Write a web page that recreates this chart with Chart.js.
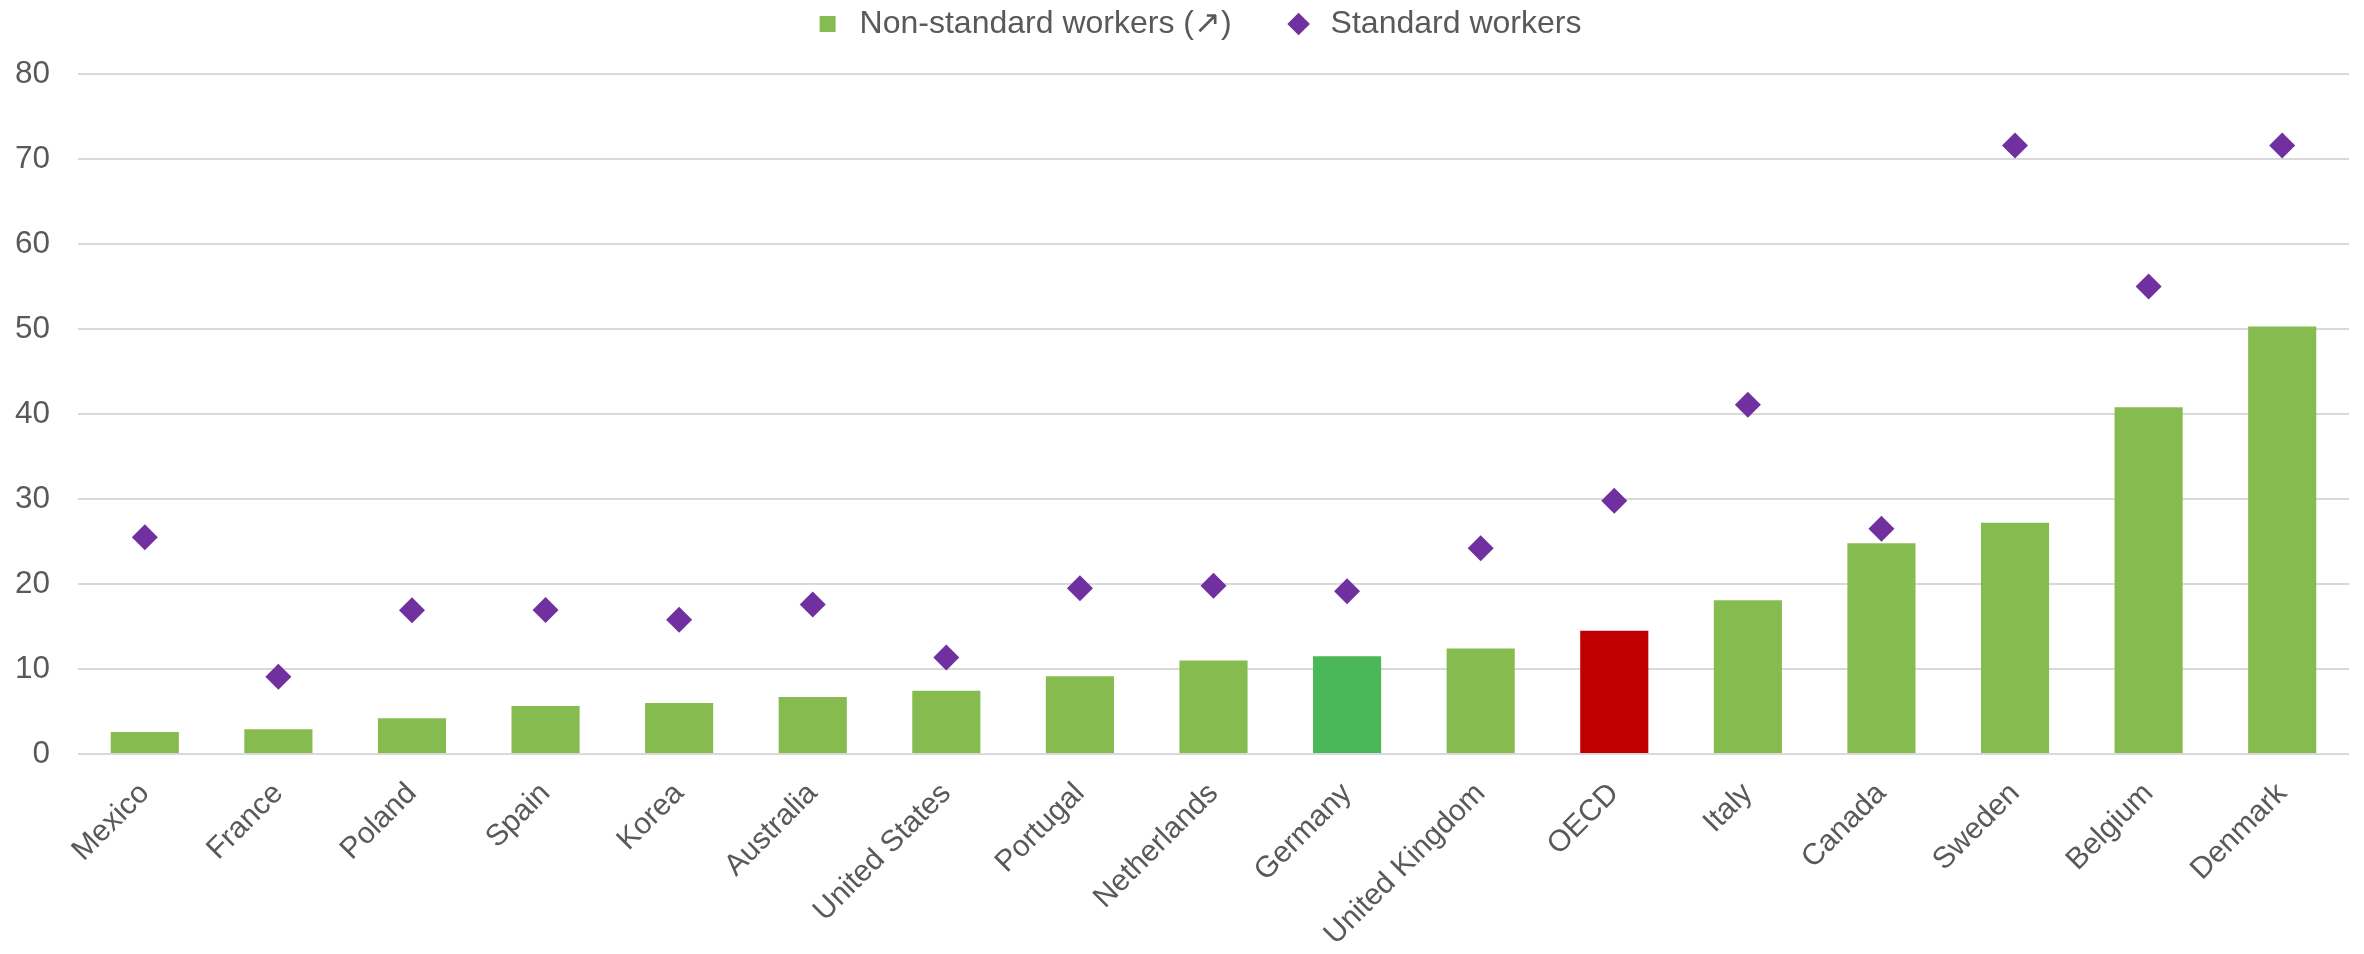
<!DOCTYPE html>
<html>
<head>
<meta charset="utf-8">
<script src="https://cdn.jsdelivr.net/npm/chart.js@4.4.1/dist/chart.umd.min.js"></script>
<style>
  html, body { margin: 0; padding: 0; background: #ffffff; }
  #wrap { width: 2364px; height: 954px; position: relative; }
</style>
</head>
<body>
<div id="wrap"><canvas id="chart"></canvas></div>
<script>
// Countries, ordered by the non-standard workers' share
const categories = ['Mexico', 'France', 'Poland', 'Spain', 'Korea', 'Australia', 'United States',
  'Portugal', 'Netherlands', 'Germany', 'United Kingdom', 'OECD', 'Italy', 'Canada', 'Sweden',
  'Belgium', 'Denmark'];

// Non-standard workers (bars)
const nonStandard = [2.6, 2.9, 4.2, 5.65, 6.0, 6.7, 7.45, 9.15, 11.0, 11.5, 12.4, 14.5, 18.1, 24.8,
  27.2, 40.8, 50.3];

// Standard workers (diamonds)
const standard = [25.5, 9.1, 16.9, 16.95, 15.8, 17.6, 11.35, 19.5, 19.8, 19.15, 24.2, 29.8, 41.1,
  26.5, 71.6, 55.0, 71.6];

// Value axis ticks
const yTicks = [0, 10, 20, 30, 40, 50, 60, 70, 80];

const seriesNames = ['Non-standard workers (\u2197)', 'Standard workers'];

const FONT = "'Liberation Sans', Arial, Helvetica, sans-serif";
const TEXT = '#595959';
const GRID = '#D9D9D9';
const BAR_GREEN = '#86BC4F';
const barHighlight = { 'Germany': '#4BB857', 'OECD': '#C00000' };
const DIAMOND = '#7030A0';

const LEGEND_HEIGHT = 74;   // space reserved above the plot
const LEGEND_TEXT_TOP = 8;  // top of the legend row
const LEGEND_SHIFT_X = 22;  // legend row sits slightly right of centre
const Y_AXIS_WIDTH = 78;    // room for the value labels
const X_AXIS_HEIGHT = 200;  // room for the slanted country names

// Wider gaps between legend entries without pushing the row downwards
const legendSpacing = {
  id: 'legendSpacing',
  beforeInit(chart) {
    const legend = chart.legend;
    if (!legend) return;
    const fit = legend.fit;
    legend.fit = function () {
      fit.call(this);
      this.height = LEGEND_HEIGHT;
    };
    const draw = legend.draw;
    legend.draw = function () {
      const { top, left, right } = this;
      this.top = top + LEGEND_TEXT_TOP - this.options.labels.padding;
      this.left = left + LEGEND_SHIFT_X;
      this.right = right + LEGEND_SHIFT_X;
      draw.apply(this, arguments);
      this.top = top;
      this.left = left;
      this.right = right;
    };
  }
};

new Chart(document.getElementById('chart'), {
  data: {
    labels: categories,
    datasets: [
      {
        type: 'bar',
        label: seriesNames[0],
        data: nonStandard,
        backgroundColor: (ctx) => barHighlight[categories[ctx.dataIndex]] || BAR_GREEN,
        borderWidth: 0,
        barPercentage: 0.51,
        categoryPercentage: 1.0,
        pointStyle: 'rect',
        order: 1
      },
      {
        type: 'line',
        label: seriesNames[1],
        data: standard,
        showLine: false,
        pointStyle: 'rectRot',
        pointRadius: 13,
        pointHoverRadius: 13,
        pointBorderWidth: 0,
        pointBackgroundColor: DIAMOND,
        backgroundColor: DIAMOND,
        borderColor: DIAMOND,
        order: 0
      }
    ]
  },
  options: {
    responsive: true,
    maintainAspectRatio: false,
    devicePixelRatio: 1,
    animation: false,
    layout: { padding: { left: 0, right: 15, top: 0, bottom: 0 } },
    plugins: {
      tooltip: { enabled: false },
      legend: {
        position: 'top',
        align: 'center',
        labels: {
          usePointStyle: true,
          boxHeight: 16,
          padding: 51,
          color: TEXT,
          font: { family: FONT, size: 32 },
          sort: (a, b) => a.datasetIndex - b.datasetIndex,
          generateLabels(chart) {
            const items = Chart.defaults.plugins.legend.labels.generateLabels(chart);
            items.forEach((it) => {
              it.pointStyle = chart.data.datasets[it.datasetIndex].pointStyle;
              it.lineWidth = 0;
            });
            return items;
          }
        }
      }
    },
    scales: {
      x: {
        grid: { display: false, drawTicks: false },
        border: { display: false },
        ticks: {
          autoSkip: false,
          maxRotation: 45,
          minRotation: 45,
          padding: 22,
          color: TEXT,
          font: { family: FONT, size: 30 }
        },
        afterFit(scale) {
          scale.height = X_AXIS_HEIGHT;
          scale.paddingLeft = 0;
          scale.paddingRight = 0;
        }
      },
      y: {
        min: yTicks[0],
        max: yTicks[yTicks.length - 1],
        afterBuildTicks(scale) {
          scale.ticks = yTicks.map((v) => ({ value: v }));
        },
        afterFit(scale) {
          scale.width = Y_AXIS_WIDTH;
        },
        grid: { color: GRID, lineWidth: 2, drawTicks: false },
        border: { display: false },
        ticks: {
          padding: 28,
          color: TEXT,
          font: { family: FONT, size: 31.5 }
        }
      }
    }
  },
  plugins: [legendSpacing]
});
</script>
</body>
</html>
